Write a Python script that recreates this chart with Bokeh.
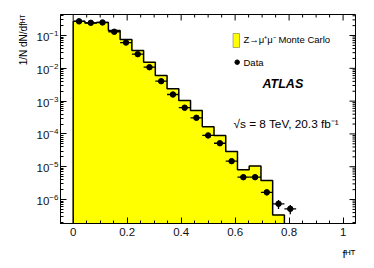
import numpy as np
from bokeh.plotting import figure
from bokeh.models import (Range1d, FixedTicker, LogTicker, Title,
                          PrintfTickFormatter, Label, BoxAnnotation, ColumnDataSource)
from bokeh.embed import file_html
from bokeh.resources import INLINE

# ---------------- data ----------------
bin_edges = [0.0, 0.0435, 0.087, 0.1304, 0.1739, 0.2174, 0.2609, 0.3043, 0.3478,
             0.3913, 0.4348, 0.4783, 0.5217, 0.5652, 0.6087, 0.6522, 0.6957,
             0.7391, 0.7826, 0.8261]
mc_values = [0.27, 0.24, 0.25, 0.142, 0.0755, 0.035, 0.0154, 0.006, 0.0024,
             0.00105, 0.00052, 0.000165, 8.9e-5, 2.9e-5, 8.1e-6, 1.05e-5,
             3.8e-6, 3.4e-7]
data_values = [0.27, 0.244, 0.25, 0.13, 0.061, 0.027, 0.0108, 0.00405, 0.00159,
               0.00063, 0.00031, 9.0e-5, 5.2e-5, 1.48e-5, 4.8e-6, 4.8e-6,
               1.66e-6, 7.4e-7, 5.2e-7]
data_rel_err = [0.005, 0.005, 0.005, 0.01, 0.01, 0.02, 0.03, 0.04, 0.05, 0.07,
                0.08, 0.1, 0.1, 0.12, 0.15, 0.15, 0.2, 0.3, 0.32]
x_ticks = [0.0, 0.2, 0.4, 0.6, 0.8, 1.0]
x_minor_ticks = [0.0, 0.05, 0.1, 0.15, 0.2, 0.25, 0.3, 0.35, 0.4, 0.45, 0.5,
                 0.55, 0.6, 0.65, 0.7, 0.75, 0.8, 0.85, 0.9, 0.95, 1.0]
y_decades = [-7, -6, -5, -4, -3, -2, -1]
legend_mc = "Z\u2192\u03bc\u207a\u03bc\u207b Monte Carlo"
legend_data = "Data"
atlas_text = "ATLAS"
energy_text = "\u221as = 8 TeV, 20.3 fb\u207b\u00b9"
y_title = "1/N dN/df\u1d34\u1d40"
x_title = "f\u1d34\u1d40"

# ---------------- geometry ----------------
W, H = 374, 268
FL, FR, FT, FB = 60, 355, 14, 223          # frame edges in page pixels
X0, X1 = -0.047, 1.046
Y0, Y1 = 1.86e-7, 0.437
FONT = "Liberation Sans"
MAJ, MIN = 6, 3


def X(px):
    return X0 + (px - FL) / (FR - FL) * (X1 - X0)


def Y(py):
    l0, l1 = np.log10(Y0), np.log10(Y1)
    return 10 ** (l1 - (py - FT) / (FB - FT) * (l1 - l0))


p = figure(width=W, height=H, output_backend="svg", toolbar_location=None,
           x_range=Range1d(X0, X1), y_range=Range1d(Y0, Y1), y_axis_type="log",
           min_border_left=FL, min_border_right=W - FR, min_border_top=FT,
           min_border_bottom=H - FB, background_fill_color="white",
           border_fill_color="white")
p.grid.visible = False
p.outline_line_color = "black"
p.outline_line_width = 1


def style_axis(ax):
    ax.axis_line_color = "black"
    ax.major_tick_in = MAJ
    ax.major_tick_out = 0
    ax.minor_tick_in = MIN
    ax.minor_tick_out = 0
    ax.major_tick_line_color = "black"
    ax.minor_tick_line_color = "black"
    ax.major_label_text_font = FONT
    ax.major_label_text_color = "#111111"
    ax.major_label_text_font_size = "11.5px"


p.xaxis.ticker = FixedTicker(ticks=x_ticks, minor_ticks=x_minor_ticks)
p.xaxis.formatter = PrintfTickFormatter(format="%g")
p.xaxis.major_label_standoff = 4
style_axis(p.xaxis[0])
p.yaxis.ticker = LogTicker(num_minor_ticks=10)
p.yaxis.major_label_standoff = 2
style_axis(p.yaxis[0])

# axis titles as side titles (right / top aligned like the reference)
p.add_layout(Title(text=y_title, align="right", text_font=FONT, text_font_size="10px",
                   text_font_style="normal", text_color="black", standoff=9), "left")
p.add_layout(Title(text=x_title, align="right", text_font=FONT, text_font_size="11.5px",
                   text_font_style="normal", text_color="black", standoff=15), "below")

# ---------------- mirrored ticks on top and right edges ----------------
top_major = x_ticks
top_minor = [t for t in x_minor_ticks if t not in x_ticks]
p.segment(x0=top_major, x1=top_major, y0=[Y(FT)] * len(top_major),
          y1=[Y(FT + MAJ)] * len(top_major), line_color="black", line_width=1)
p.segment(x0=top_minor, x1=top_minor, y0=[Y(FT)] * len(top_minor),
          y1=[Y(FT + MIN)] * len(top_minor), line_color="black", line_width=1)
r_major = [10.0 ** d for d in y_decades]
r_minor = [m * 10.0 ** d for d in y_decades for m in range(2, 10)]
r_major = [v for v in r_major if Y0 <= v <= Y1]
r_minor = [v for v in r_minor if Y0 <= v <= Y1]
p.segment(x0=[X(FR)] * len(r_major), x1=[X(FR - MAJ)] * len(r_major),
          y0=r_major, y1=r_major, line_color="black", line_width=1)
p.segment(x0=[X(FR)] * len(r_minor), x1=[X(FR - MIN)] * len(r_minor),
          y0=r_minor, y1=r_minor, line_color="black", line_width=1)

# ---------------- histogram ----------------
nb = len(mc_values)
lefts = bin_edges[:nb]
rights = bin_edges[1:nb + 1]
floor = Y0 * 1e-3
p.quad(left=lefts, right=rights, top=mc_values, bottom=[floor] * nb,
       fill_color="#ffff00", line_color="#ffff00", line_width=1)
sx, sy = [lefts[0]], [floor]
for l, r, v in zip(lefts, rights, mc_values):
    sx += [l, r]
    sy += [v, v]
sx.append(rights[-1])
sy.append(floor)
p.line(sx, sy, line_color="black", line_width=1.5)

# ---------------- data points ----------------
nd = len(data_values)
centers = [(bin_edges[i] + bin_edges[i + 1]) / 2 for i in range(nd)]
src = ColumnDataSource(dict(
    x=centers, y=data_values,
    xl=[bin_edges[i] for i in range(nd)], xr=[bin_edges[i + 1] for i in range(nd)],
    yl=[v * (1 - e) for v, e in zip(data_values, data_rel_err)],
    yh=[v * (1 + e) for v, e in zip(data_values, data_rel_err)]))
p.segment(x0="xl", x1="xr", y0="y", y1="y", source=src, line_color="black", line_width=1.3)
p.segment(x0="x", x1="x", y0="yl", y1="yh", source=src, line_color="black", line_width=1.3)
p.scatter(x="x", y="y", source=src, size=5.5, fill_color="black", line_color="black")

# ---------------- legend ----------------
p.add_layout(BoxAnnotation(left=X(232.5), right=X(239), top=Y(33), bottom=Y(47),
                           fill_color="#ffff00", fill_alpha=1.0, line_color="black",
                           line_width=1))
p.add_layout(Label(x=X(243), y=Y(38.5), text=legend_mc, text_font=FONT,
                   text_font_size="9.5px", text_baseline="middle", text_align="left",
                   text_color="black"))
p.scatter(x=[X(236.7)], y=[Y(61.7)], size=4.5, fill_color="black", line_color="black")
p.add_layout(Label(x=X(243), y=Y(61.7), text=legend_data, text_font=FONT,
                   text_font_size="9.5px", text_baseline="middle", text_align="left",
                   text_color="black"))

# ---------------- texts ----------------
p.add_layout(Label(x=X(262), y=Y(83.5), text=atlas_text, text_font=FONT,
                   text_font_size="12.5px", text_font_style="bold italic",
                   text_baseline="middle", text_align="left", text_color="black"))
p.add_layout(Label(x=X(233), y=Y(123.5), text=energy_text, text_font=FONT,
                   text_font_size="11.8px", text_baseline="middle", text_align="left",
                   text_color="black"))

open("out.html", "w").write(file_html(p, INLINE))
